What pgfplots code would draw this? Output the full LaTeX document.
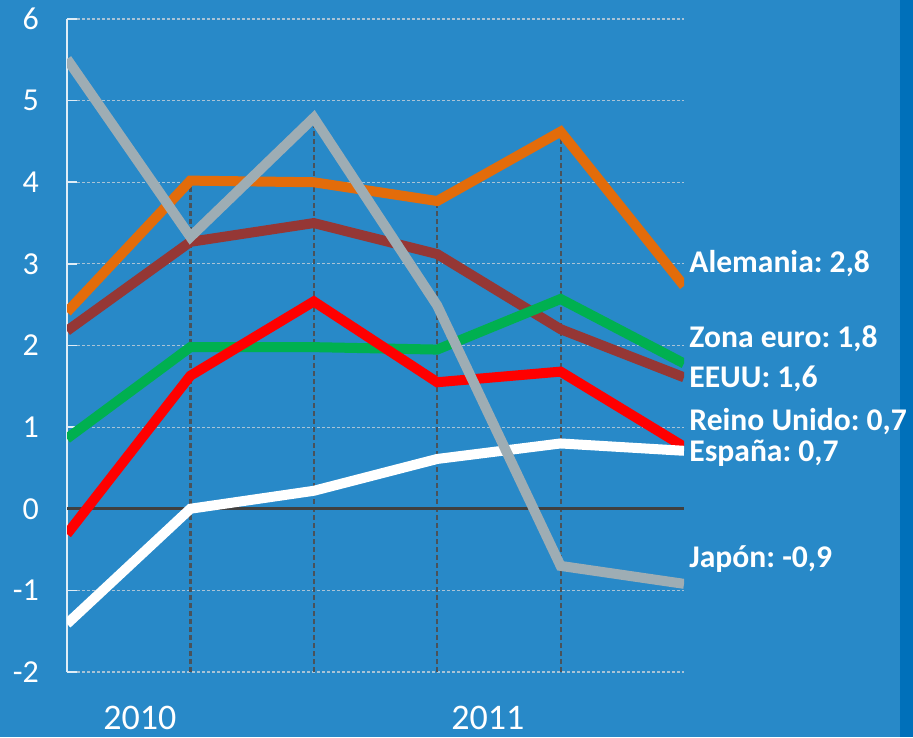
\documentclass[border=0pt]{standalone}
\usepackage{pgfplots}
\pgfplotsset{compat=1.18}
\usepackage{fontspec}
\setmainfont{Carlito}
\frenchspacing

\definecolor{bgblue}{HTML}{2889C8}
\definecolor{edgeblue}{HTML}{0070BA}
\definecolor{cOrange}{HTML}{E36C0A}
\definecolor{cBrown}{HTML}{953735}
\definecolor{cGreen}{HTML}{00B050}
\definecolor{cRed}{HTML}{FF0000}
\definecolor{cGray}{HTML}{9EADB4}
\definecolor{gridc}{HTML}{A9C3D6}
\definecolor{dropc}{HTML}{4A525A}

\begin{document}
\begin{tikzpicture}[
    label node/.style={anchor=base west, inner sep=0pt, xshift=2.5pt,
        text=white, font=\bfseries\fontsize{15.8}{16}\selectfont},
]
% 1 px of the reference = 0.5pt
\fill[bgblue] (0,0) rectangle (456.5pt,368.5pt);
\fill[edgeblue] (450pt,0) rectangle (456.5pt,368.5pt);

\begin{axis}[
    at={(33.5pt,32.5pt)}, anchor=south west,
    scale only axis,
    width=308.5pt, height=326.5pt,
    xmin=0, xmax=5, ymin=-2, ymax=6,
    axis lines=left,
    axis line style={-},
    y axis line style={draw=white!85!bgblue, line width=0.8pt},
    x axis line style={draw=none},
    ytick={-2,...,6},
    yticklabels={-2,-1,0,1,2,3,4,5,6},
    xtick={0.59,3.41},
    xticklabels={2010,2011},
    ytick align=inside,
    major tick length=5pt,
    ytick style={draw=white!85!bgblue, line width=0.8pt},
    xtick style={draw=none},
    ymajorgrids,
    grid style={draw=gridc, line width=0.6pt, dash pattern=on 1.5pt off 1pt},
    ticklabel style={text=white},
    yticklabel style={font=\fontsize{16}{17}\selectfont, xshift=-10.5pt},
    xticklabel style={font=\fontsize{18}{19}\selectfont, yshift=-11pt},
    clip mode=individual,
    line join=miter,
    every axis plot/.style={line width=5pt, line cap=butt},
]
% drop lines
\addplot[dropc, line width=1.1pt, dash pattern=on 2.5pt off 1.5pt] coordinates {(1,-2) (1,4.02)};
\addplot[dropc, line width=1.1pt, dash pattern=on 2.5pt off 1.5pt] coordinates {(2,-2) (2,4.79)};
\addplot[dropc, line width=1.1pt, dash pattern=on 2.5pt off 1.5pt] coordinates {(3,-2) (3,3.77)};
\addplot[dropc, line width=1.1pt, dash pattern=on 2.5pt off 1.5pt] coordinates {(4,-2) (4,4.62)};
% zero line
\addplot[black!75, line width=1.5pt] coordinates {(0,0) (5,0)};

% Alemania
\addplot[cOrange] coordinates {(0,2.41) (1,4.02) (2,4.00) (3,3.77) (4,4.62) (5,2.73)};
% EEUU
\addplot[cBrown] coordinates {(0,2.18) (1,3.27) (2,3.50) (3,3.12) (4,2.20) (5,1.61)};
% Zona euro
\addplot[cGreen] coordinates {(0,0.86) (1,1.98) (2,1.98) (3,1.95) (4,2.57) (5,1.78)};
% Reino Unido
\addplot[cRed] coordinates {(0,-0.31) (1,1.63) (2,2.54) (3,1.55) (4,1.68) (5,0.76)};
% Espana
\addplot[white] coordinates {(0,-1.41) (1,0.00) (2,0.22) (3,0.61) (4,0.80) (5,0.71)};
% Japon
\addplot[cGray] coordinates {(0,5.51) (1,3.33) (2,4.79) (3,2.49) (4,-0.70) (5,-0.92)};

\node[label node] at (axis cs:5,2.90) {Alemania: 2,8};
\node[label node] at (axis cs:5,1.97) {Zona euro: 1,8};
\node[label node] at (axis cs:5,1.49) {EEUU: 1,6};
\node[label node] at (axis cs:5,0.96) {Reino Unido: 0,7};
\node[label node] at (axis cs:5,0.58) {España: 0,7};
\node[label node] at (axis cs:5,-0.72) {Japón: -0,9};
\end{axis}
\pgfresetboundingbox
\useasboundingbox (0,0) rectangle (456.5pt,368.5pt);
\end{tikzpicture}
\end{document}
